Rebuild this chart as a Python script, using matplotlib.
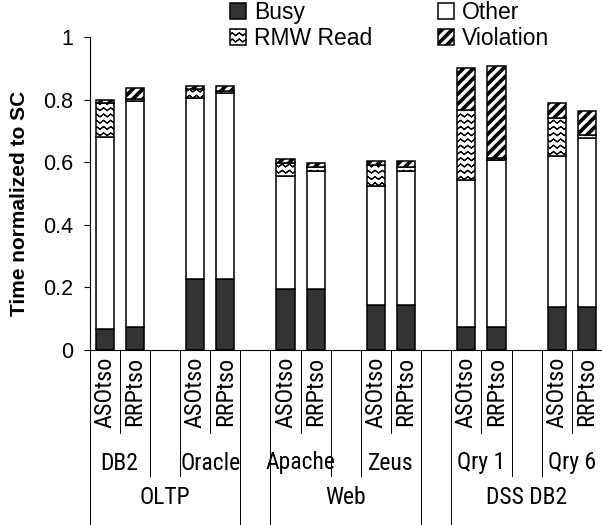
import matplotlib
matplotlib.use("Agg")
import numpy as np
import matplotlib.pyplot as plt
from matplotlib import hatch as mhatch
from matplotlib import font_manager
from matplotlib.path import Path
from matplotlib.transforms import blended_transform_factory

# ---------------------------------------------------------------- data
groups = ["OLTP", "Web", "DSS DB2"]
workloads = [["DB2", "Oracle"], ["Apache", "Zeus"], ["Qry 1", "Qry 6"]]
configs = ["ASOtso", "RRPtso"]
series_names = ["Busy", "Other", "RMW Read", "Violation"]

# one entry per bar, in order DB2 ASO, DB2 RRP, Oracle ASO, Oracle RRP, ...
busy      = [0.067, 0.073, 0.227, 0.227, 0.195, 0.195, 0.145, 0.145, 0.073, 0.073, 0.137, 0.137]
other     = [0.613, 0.722, 0.578, 0.595, 0.362, 0.377, 0.378, 0.427, 0.470, 0.534, 0.483, 0.539]
rmw_read  = [0.110, 0.007, 0.028, 0.004, 0.039, 0.014, 0.067, 0.012, 0.224, 0.005, 0.121, 0.012]
violation = [0.010, 0.036, 0.012, 0.019, 0.013, 0.012, 0.013, 0.019, 0.133, 0.295, 0.049, 0.074]

y_ticks = [0, 0.2, 0.4, 0.6, 0.8, 1]
y_tick_labels = ["0", "0.2", "0.4", "0.6", "0.8", "1"]
y_label = "Time normalized to SC"


# ---------------------------------------------------------------- hatches
class WaveHatch(mhatch.HatchPatternBase):
    """Rows of zig-zag waves, used for the 'o' hatch character."""

    def __init__(self, hatch, density):
        n = hatch.count("o")
        self.rows = int(round(n * density * 8 / 3))
        self.teeth = int(round(n * density * 7 / 3))
        self.per_row = 4 * self.teeth + 1
        self.num_vertices = self.rows * self.per_row if n else 0

    def set_vertices_and_codes(self, vertices, codes):
        k = np.arange(2 * self.teeth + 1)
        xs = k / (2 * self.teeth)
        lift = (k % 2) * 0.45 / self.rows
        # go forward and back along the same zig-zag so the fill has no area
        fx = np.concatenate([xs, xs[-2::-1]])
        fl = np.concatenate([lift, lift[-2::-1]])
        for r in range(self.rows):
            sl = slice(r * self.per_row, (r + 1) * self.per_row)
            vertices[sl, 0] = fx
            vertices[sl, 1] = (r + 0.3) / self.rows + fl
            codes[sl] = Path.LINETO
            codes[r * self.per_row] = Path.MOVETO


class BandHatch(mhatch.HatchPatternBase):
    """Thick filled diagonal bands, used for the 'O' hatch character."""

    def __init__(self, hatch, density):
        n = hatch.count("O")
        self.m = int(round(n * density * 10 / 6))
        self.num_vertices = (2 * self.m + 1) * 5 if n else 0

    def set_vertices_and_codes(self, vertices, codes):
        w = 0.36 / self.m
        for i, k in enumerate(range(-self.m, self.m + 1)):
            c = k / self.m
            j = i * 5
            vertices[j:j + 5] = [(c, 0), (1 + c, 1), (1 + c + w, 1), (c + w, 0), (c, 0)]
            codes[j:j + 5] = [Path.MOVETO, Path.LINETO, Path.LINETO, Path.LINETO, Path.CLOSEPOLY]


mhatch._hatch_types = [
    WaveHatch if t is mhatch.SmallCircles else BandHatch if t is mhatch.LargeCircles else t
    for t in mhatch._hatch_types
]

# ---------------------------------------------------------------- fonts
plt.rcParams["font.family"] = ["Liberation Sans", "DejaVu Sans"]
plt.rcParams["hatch.linewidth"] = 0.8

installed = {f.name for f in font_manager.fontManager.ttflist}
narrow_name = next((n for n in ["Liberation Sans Narrow", "Arial Narrow", "Roboto Condensed"]
                    if n in installed), None)
if narrow_name:
    cat_font = dict(family=[narrow_name, "DejaVu Sans"], fontsize=17)
    rot_font = dict(family=[narrow_name, "DejaVu Sans"], fontsize=17.5)
else:
    cat_font = dict(family=["Liberation Sans", "DejaVu Sans"], fontsize=14.5)
    rot_font = dict(family=["Liberation Sans", "DejaVu Sans"], fontsize=15.5)

# ---------------------------------------------------------------- slots
# each slot: (group, workload, config); empty slots separate workloads/groups
slots = []
for gi, g in enumerate(groups):
    for wi, w in enumerate(workloads[gi]):
        for c in configs:
            slots.append((g, w, c))
        if wi < len(workloads[gi]) - 1:
            slots.append((g, "", ""))
    if gi < len(groups) - 1:
        slots.append(("", "", ""))

bar_x = [i for i, s in enumerate(slots) if s[2]]
n_slots = len(slots)

# ---------------------------------------------------------------- figure
W, H = 602, 525
fig = plt.figure(figsize=(W / 100, H / 100), dpi=100)
ax = fig.add_axes([89.5 / W, 175 / H, (W - 89.5) / W, 313 / H])

styles = [
    dict(color="#333333", hatch=None),
    dict(color="white", hatch=None),
    dict(color="white", hatch="o"),
    dict(color="white", hatch="O"),
]
bottom = np.zeros(len(bar_x))
handles = []
for vals, st, name in zip([busy, other, rmw_read, violation], styles, series_names):
    bc = ax.bar(bar_x, vals, width=0.6, bottom=bottom, color=st["color"],
                edgecolor="black", linewidth=1.1, hatch=st["hatch"], label=name)
    handles.append(bc)
    bottom += np.array(vals)

ax.set_xlim(-0.5, n_slots - 0.5)
ax.set_ylim(0, 1)
ax.set_yticks(y_ticks)
ax.set_yticklabels(y_tick_labels)
ax.tick_params(axis="y", direction="out", length=4, width=0.8, pad=7.5, labelsize=15.5)
ax.set_xticks([])
for s in ("top", "right"):
    ax.spines[s].set_visible(False)
ax.spines["left"].set_linewidth(0.8)
ax.spines["bottom"].set_linewidth(0.8)

fig.text(20 / W, 1 - 203 / H, y_label, rotation=90, ha="center", va="center",
         fontsize=15, fontweight="bold")

# ---------------------------------------------------------------- category axis
tr = blended_transform_factory(ax.transData, fig.transFigure)
y_axis = 1 - 350 / H
line_end = {1: 1 - 433 / H, 2: 1 - 476 / H, 3: 0.0}


def boundary_level(i):
    if i == 0 or i == n_slots:
        return 3
    a, b = slots[i - 1], slots[i]
    if a[0] != b[0] or a[0] == "":
        return 3
    if a[1] != b[1] or a[1] == "":
        return 2
    return 1


for i in range(n_slots + 1):
    lvl = boundary_level(i)
    ax.plot([i - 0.5, i - 0.5], [y_axis, line_end[lvl]], transform=tr,
            color="black", lw=0.7, clip_on=False)

for i, s in enumerate(slots):
    if s[2]:
        ax.text(i, 1 - 357 / H, s[2], transform=tr, rotation=90, ha="center",
                va="top", **rot_font)


def spans(level):
    out = []
    start = 0
    for i in range(1, n_slots + 1):
        if i == n_slots or slots[i][:level + 1] != slots[start][:level + 1] \
                or slots[i][level] == "":
            if slots[start][level]:
                out.append((slots[start][level], start, i - 1))
            start = i
    return out


for name, a, b in spans(1):
    ax.text((a + b) / 2, 1 - 463 / H, name, transform=tr, ha="center",
            va="center", **cat_font)
for name, a, b in spans(0):
    ax.text((a + b) / 2, 1 - 497 / H, name, transform=tr, ha="center",
            va="center", **cat_font)

# ---------------------------------------------------------------- legend
order = [0, 2, 1, 3]
fig.legend([handles[k] for k in order], [series_names[k] for k in order],
           loc="upper left", bbox_to_anchor=(230 / W, 1 - 1 / H), ncol=2,
           frameon=False, fontsize=16.5, handlelength=0.7, handleheight=0.7,
           handletextpad=0.35, columnspacing=2.85, labelspacing=0.12,
           borderpad=0, borderaxespad=0)

fig.savefig("out.png", dpi=100)
